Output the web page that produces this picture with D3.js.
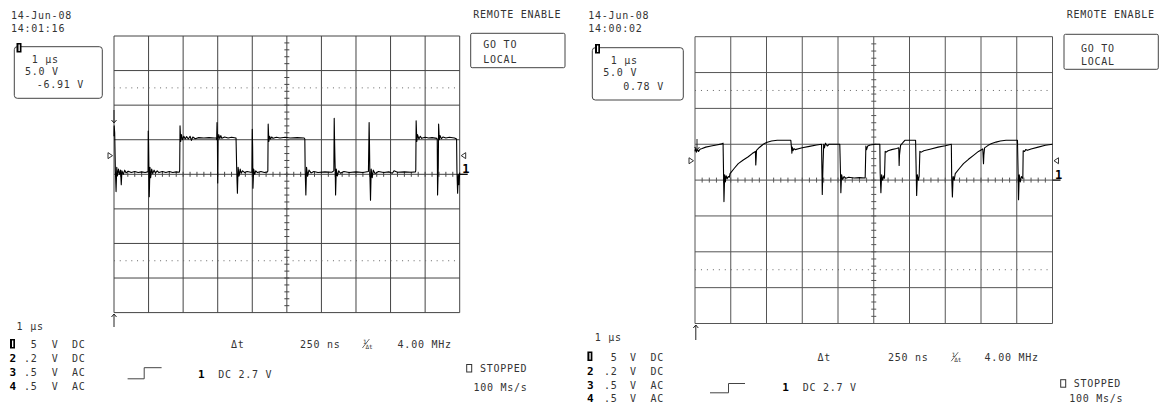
<!DOCTYPE html>
<html>
<head>
<meta charset="utf-8">
<script src="https://cdn.jsdelivr.net/npm/d3@7"></script>
<style>
body { margin: 0; background: #fff; }
text { font-family: "DejaVu Sans Mono", monospace; font-size: 10px; fill: #333; letter-spacing: 0.75px; white-space: pre; }
text.bold { font-weight: bold; fill: #000; font-size: 11px; letter-spacing: 0; }
</style>
</head>
<body>
<svg id="scope" width="1162" height="403"></svg>
<script>
var dates = ["14-Jun-08", "14-Jun-08"];
var times = ["14:01:16", "14:00:02"];
var offsets = ["-6.91 V", "0.78 V"];
var timebase = "1 μs";
var voltsText = "5.0 V";
var voltsPerDiv = 5;
var trigLevel = 2.7;
var trigText = "DC 2.7 V";
var deltaT = "250 ns";
var freq = "4.00 MHz";
var sampleRate = "100 Ms/s";
var chNames = ["1", "2", "3", "4"];
var chScale = [" 5", ".2", ".5", ".5"];
var chCoupling = ["DC", "DC", "AC", "AC"];

// trace points: [time in div, level in div above centre]
var leftTrace = [
[0.00,1.10],[0.005,1.40],[0.02,1.20],[0.04,0.10],[0.06,-0.50],[0.08,0.20],[0.10,-0.05],[0.13,0.15],[0.16,0.00],[0.19,0.12],[0.21,-0.30],[0.23,0.10],[0.27,0.00],[0.31,0.12],[0.35,0.04],[0.41,0.09],[0.5,0.05],[0.6,0.08],[0.7,0.05],[0.8,0.07],[0.9,0.05],[0.97,0.07],
[0.985,0.10],[0.99,1.25],[1.00,0.90],[1.01,0.10],[1.02,-0.65],[1.04,0.20],[1.06,-0.10],[1.09,0.15],[1.12,0.02],[1.16,0.12],[1.20,0.04],[1.25,0.10],[1.30,0.05],[1.40,0.08],[1.50,0.05],[1.60,0.08],[1.70,0.05],[1.80,0.07],[1.89,0.06],
[1.90,0.12],[1.91,1.40],[1.93,0.95],[1.95,1.15],[1.98,1.00],[2.02,1.10],[2.06,1.02],[2.10,1.09],[2.15,1.02],[2.20,1.10],[2.24,0.98],[2.28,1.08],[2.35,1.03],[2.45,1.06],[2.60,1.05],[2.75,1.06],[2.90,1.05],[2.96,1.05],
[2.97,1.00],[2.98,1.50],[2.99,1.20],[3.00,-0.25],[3.01,1.00],[3.03,1.15],[3.06,1.03],[3.09,1.12],[3.12,1.04],[3.20,1.08],[3.30,1.05],[3.40,1.07],[3.53,1.05],
[3.55,0.10],[3.57,-0.55],[3.59,0.20],[3.62,-0.05],[3.65,0.15],[3.68,0.03],[3.72,0.10],[3.78,0.05],[3.85,0.08],[3.95,0.06],
[3.99,0.06],[4.00,1.30],[4.01,0.80],[4.02,-0.40],[4.04,0.15],[4.07,0.00],[4.10,0.10],[4.15,0.05],[4.25,0.08],[4.35,0.05],[4.44,0.07],
[4.45,0.10],[4.46,1.45],[4.48,0.95],[4.50,1.10],[4.53,1.02],[4.56,1.08],[4.60,1.04],[4.70,1.07],[4.80,1.05],[4.95,1.07],[5.10,1.05],[5.30,1.06],[5.50,1.05],[5.52,1.02],
[5.53,0.10],[5.55,-0.60],[5.57,0.20],[5.60,-0.05],[5.64,0.12],[5.70,0.04],[5.78,0.08],[5.90,0.05],[6.10,0.07],[6.30,0.06],[6.36,0.10],
[6.37,1.62],[6.38,1.00],[6.39,0.50],[6.40,0.10],[6.41,-0.60],[6.43,0.15],[6.46,-0.05],[6.50,0.10],[6.55,0.03],[6.65,0.08],[6.80,0.05],[7.00,0.07],[7.20,0.05],[7.36,0.08],
[7.38,1.50],[7.39,0.90],[7.40,0.10],[7.42,-0.75],[7.44,0.15],[7.47,-0.10],[7.50,0.12],[7.55,0.02],[7.65,0.08],[7.80,0.05],[7.95,0.07],[8.05,0.03],[8.10,0.10],[8.20,0.06],[8.40,0.07],[8.60,0.06],[8.72,0.07],
[8.73,0.12],[8.74,1.55],[8.76,0.95],[8.78,1.15],[8.82,1.02],[8.86,1.10],[8.90,1.04],[9.00,1.07],[9.10,1.05],[9.20,1.06],[9.34,1.04],
[9.35,1.00],[9.36,-0.60],[9.38,0.20],[9.39,1.45],[9.41,1.00],[9.43,1.12],[9.47,1.03],[9.52,1.08],[9.60,1.05],[9.70,1.07],[9.85,1.05],[9.91,1.02],
[9.92,0.10],[9.94,-0.55],[9.96,0.00],[9.98,-0.30],[10.00,0.05]
];

var rightTrace = [
[0.00,0.80],[0.02,0.90],[0.04,0.78],[0.07,0.86],[0.10,0.80],[0.14,0.86],[0.20,0.88],[0.30,0.92],[0.45,0.95],[0.60,0.98],[0.75,1.01],[0.785,1.03],
[0.80,0.10],[0.81,-0.60],[0.83,0.15],[0.85,-0.05],[0.87,0.12],[0.90,0.04],[0.93,0.10],[0.96,0.08],
[0.98,0.18],[1.10,0.33],[1.21,0.46],[1.35,0.56],[1.49,0.65],[1.60,0.74],[1.69,0.80],[1.70,0.42],[1.71,0.60],[1.72,0.83],[1.80,0.91],[1.91,1.00],[2.00,1.05],[2.14,1.09],[2.30,1.11],[2.50,1.11],[2.68,1.11],
[2.70,0.90],[2.71,0.75],[2.72,0.92],[2.74,0.82],[2.77,0.88],[2.80,0.85],[3.00,0.90],[3.20,0.94],[3.40,0.98],[3.54,1.00],
[3.55,0.30],[3.56,-0.40],[3.58,0.40],[3.60,1.00],[3.62,0.90],[3.65,1.03],[3.70,0.95],[3.75,1.00],[3.80,1.00],[4.05,1.00],
[4.07,0.20],[4.08,-0.35],[4.10,0.15],[4.13,0.02],[4.17,0.10],[4.22,0.05],[4.30,0.08],[4.45,0.06],[4.60,0.07],[4.76,0.06],
[4.78,0.95],[4.80,0.85],[4.83,0.95],[4.90,0.98],[5.05,1.00],[5.17,1.00],
[5.18,0.20],[5.20,-0.35],[5.22,0.15],[5.25,0.00],[5.28,0.12],[5.30,0.05],
[5.32,0.80],[5.35,0.78],[5.40,0.82],[5.50,0.85],[5.64,0.88],[5.70,0.90],[5.71,0.41],[5.72,0.70],[5.75,0.97],[5.82,1.05],[5.87,1.11],[6.17,1.11],
[6.19,0.10],[6.20,-0.43],[6.22,0.15],[6.25,0.00],[6.27,0.10],
[6.29,0.80],[6.33,0.78],[6.40,0.82],[6.60,0.87],[6.80,0.92],[7.00,0.96],[7.17,1.00],
[7.18,0.10],[7.20,-0.47],[7.22,0.10],[7.25,0.00],
[7.28,0.18],[7.40,0.33],[7.51,0.46],[7.65,0.58],[7.79,0.69],[7.93,0.80],[8.05,0.87],[8.07,0.46],[8.08,0.70],[8.10,0.90],[8.20,0.97],[8.30,1.02],[8.42,1.06],[8.54,1.09],[8.70,1.11],[8.90,1.11],[9.02,1.11],
[9.04,0.10],[9.05,-0.55],[9.07,0.15],[9.10,-0.05],[9.13,0.10],[9.17,0.05],
[9.18,0.82],[9.22,0.80],[9.25,0.85],[9.30,0.83],[9.40,0.87],[9.60,0.92],[9.80,0.97],[10.00,1.00]
];

// ---- where things sit in each of the two captures ----
var layouts = [
  { gx0: 114, gx1: 459.7, gy0: 36, gy1: 312.6, grid: "#444",
    head: [11, 18.5, 32.3], box: [14.3, 46.7, 102.3, 98.3], badge: [16.5, 43],
    readout: [[31.7, 63.3], [25, 74.5], [36.7, 88.3]],
    remote: [473.3, 18.3], goBox: [470.7, 33.3, 565, 67.7], goText: [483.3, 48.3, 63.3],
    tdiv: [16.6, 329.6], rowY: [348, 362, 376, 390], colX: [10, 24, 51.8, 72],
    trig: [127.6, 144.2, 161.6, 378.8, 367.7], trigCh: [197.9, 218.2, 377.7],
    cursor: [231, 300, 362.4, 397.6, 348],
    stop: [466.7, 480, 372], rate: [473.4, 390.6],
    topArrow: [114, 110, 123], botArrow: [114, 314, 327] },
  { gx0: 695, gx1: 1052.5, gy0: 36.7, gy1: 323.5, grid: "#555",
    head: [588.3, 18.5, 32.3], box: [592.3, 47.7, 683.3, 100], badge: [595, 44],
    readout: [[610.7, 64], [603.3, 75.5], [623.3, 90]],
    remote: [1066.7, 18.3], goBox: [1064, 34.3, 1158.3, 69.3], goText: [1081, 52.3, 64.8],
    tdiv: [594.8, 340.8], rowY: [360.5, 374.5, 388.5, 401.5], colX: [587.4, 604, 630, 650.5],
    trig: [710, 728.5, 745, 392.8, 383.5], trigCh: [782.3, 802.7, 391],
    cursor: [817.6, 888, 951.2, 984.6, 361.2],
    stop: [1060.7, 1073.7, 387.2], rate: [1069.2, 401.5],
    topArrow: [697, 139, 150], botArrow: [695.8, 325, 340] }
];

var svg = d3.select("#scope");
svg.append("rect").attr("width", 1162).attr("height", 403).attr("fill", "#fff");

function txt(g, x, y, s, cls) {
  var t = g.append("text").attr("x", x).attr("y", y).text(s);
  if (cls) t.attr("class", cls);
  return t;
}

function badge(g, x, y) {
  g.append("rect").attr("x", x).attr("y", y).attr("width", 5).attr("height", 9.5).attr("fill", "#000");
  g.append("rect").attr("x", x + 2).attr("y", y + 1.5).attr("width", 1.3).attr("height", 6.5).attr("fill", "#fff");
}

function arrow(g, x, y1, y2) {
  // y1 -> y2, head at y2
  var d = y2 > y1 ? 1 : -1;
  g.append("path")
    .attr("d", "M" + x + "," + y1 + "V" + y2 + "M" + (x - 2.5) + "," + (y2 - d * 3) + "L" + x + "," + y2 + "L" + (x + 2.5) + "," + (y2 - d * 3))
    .attr("fill", "none").attr("stroke", "#222").attr("stroke-width", 1);
}

function drawPanel(L, trace, k) {
  var g = svg.append("g");
  var x = d3.scaleLinear().domain([0, 10]).range([L.gx0, L.gx1]);
  var y = d3.scaleLinear().domain([-4, 4]).range([L.gy1, L.gy0]);
  var dv = x(1) - x(0);

  // graticule
  g.selectAll("line.vg").data(d3.range(0, 11)).enter().append("line")
    .attr("x1", function(d) { return x(d); }).attr("x2", function(d) { return x(d); })
    .attr("y1", y(4)).attr("y2", y(-4))
    .attr("stroke", L.grid).attr("stroke-width", 1);
  g.selectAll("line.hg").data(d3.range(-4, 5)).enter().append("line")
    .attr("x1", x(0)).attr("x2", x(10))
    .attr("y1", function(d) { return y(d); }).attr("y2", function(d) { return y(d); })
    .attr("stroke", L.grid).attr("stroke-width", 1);
  g.selectAll("line.dot").data([2.5, -2.5]).enter().append("line")
    .attr("x1", x(0)).attr("x2", x(10))
    .attr("y1", function(d) { return y(d); }).attr("y2", function(d) { return y(d); })
    .attr("stroke", "#666").attr("stroke-width", 1)
    .attr("stroke-dasharray", "1," + (dv / 6 - 1));
  // minor ticks on centre axes
  g.selectAll("line.tx").data(d3.range(1, 50)).enter().append("line")
    .attr("x1", function(d) { return x(d / 5); }).attr("x2", function(d) { return x(d / 5); })
    .attr("y1", y(0) - 2.5).attr("y2", y(0) + 2.5)
    .attr("stroke", L.grid);
  g.selectAll("line.ty").data(d3.range(-19, 20)).enter().append("line")
    .attr("x1", x(5) - 2.5).attr("x2", x(5) + 2.5)
    .attr("y1", function(d) { return y(d / 5); }).attr("y2", function(d) { return y(d / 5); })
    .attr("stroke", L.grid);

  // trace
  var line = d3.line().x(function(d) { return x(d[0]); }).y(function(d) { return y(d[1]); });
  g.append("path").datum(trace).attr("d", line)
    .attr("fill", "none").attr("stroke", "#000").attr("stroke-width", 1.1)
    .attr("stroke-linejoin", "round");

  // trigger level markers and ground marker
  var ty = y(trigLevel / voltsPerDiv);
  g.append("path").attr("d", "M" + (x(0) - 6) + "," + (ty - 3) + "L" + (x(0) - 1.5) + "," + ty + "L" + (x(0) - 6) + "," + (ty + 3) + "Z")
    .attr("fill", "#fff").attr("stroke", "#333");
  g.append("path").attr("d", "M" + (x(10) + 6) + "," + (ty - 3) + "L" + (x(10) + 1.5) + "," + ty + "L" + (x(10) + 6) + "," + (ty + 3) + "Z")
    .attr("fill", "#fff").attr("stroke", "#333");
  g.append("line").attr("x1", x(10)).attr("x2", x(10) + 8).attr("y1", y(0)).attr("y2", y(0))
    .attr("stroke", "#000").attr("stroke-width", 1.3);
  txt(g, x(10) + 2.5, y(0) - 1.5, chNames[0], "bold").style("font-size", "12px");

  arrow(g, L.topArrow[0], L.topArrow[1], L.topArrow[2]);
  arrow(g, L.botArrow[0], L.botArrow[2], L.botArrow[1]);

  // header
  txt(g, L.head[0], L.head[1], dates[k]);
  txt(g, L.head[0], L.head[2], times[k]);
  g.append("rect").attr("x", L.box[0]).attr("y", L.box[1])
    .attr("width", L.box[2] - L.box[0]).attr("height", L.box[3] - L.box[1])
    .attr("rx", 3).attr("fill", "none").attr("stroke", "#444");
  badge(g, L.badge[0], L.badge[1]);
  txt(g, L.readout[0][0], L.readout[0][1], timebase);
  txt(g, L.readout[1][0], L.readout[1][1], voltsText);
  txt(g, L.readout[2][0], L.readout[2][1], offsets[k]);

  txt(g, L.remote[0], L.remote[1], "REMOTE ENABLE");
  g.append("rect").attr("x", L.goBox[0]).attr("y", L.goBox[1])
    .attr("width", L.goBox[2] - L.goBox[0]).attr("height", L.goBox[3] - L.goBox[1])
    .attr("rx", 1.5).attr("fill", "none").attr("stroke", "#444");
  txt(g, L.goText[0], L.goText[1], "GO TO");
  txt(g, L.goText[0], L.goText[2], "LOCAL");

  // channel table
  txt(g, L.tdiv[0], L.tdiv[1], timebase);
  chNames.forEach(function(c, i) {
    var yy = L.rowY[i];
    if (i === 0) badge(g, L.colX[0], yy - 9);
    else txt(g, L.colX[0] - 0.5, yy, c, "bold");
    txt(g, L.colX[1], yy, chScale[i]);
    txt(g, L.colX[2], yy, "V");
    txt(g, L.colX[3], yy, chCoupling[i]);
  });

  // trigger
  var T = L.trig;
  g.append("path").attr("d", "M" + T[0] + "," + T[3] + "H" + T[1] + "V" + T[4] + "H" + T[2])
    .attr("fill", "none").attr("stroke", "#444");
  txt(g, L.trigCh[0], L.trigCh[2], chNames[0], "bold");
  txt(g, L.trigCh[1], L.trigCh[2], trigText);

  // cursors
  var C = L.cursor;
  txt(g, C[0], C[4], "Δt");
  txt(g, C[1], C[4], deltaT);
  txt(g, C[2] + 0.5, C[4] - 4.5, "1").style("font-size", "6px").style("letter-spacing", "0");
  g.append("line").attr("x1", C[2]).attr("y1", C[4]).attr("x2", C[2] + 7).attr("y2", C[4] - 9)
    .attr("stroke", "#444").attr("stroke-width", 0.8);
  txt(g, C[2] + 3, C[4] + 1, "Δt").style("font-size", "6px").style("letter-spacing", "0");
  txt(g, C[3], C[4], freq);

  g.append("rect").attr("x", L.stop[0]).attr("y", L.stop[2] - 7.5).attr("width", 5).attr("height", 7.5)
    .attr("fill", "none").attr("stroke", "#333");
  txt(g, L.stop[1], L.stop[2], "STOPPED");
  txt(g, L.rate[0], L.rate[1], sampleRate);
}

drawPanel(layouts[0], leftTrace, 0);
drawPanel(layouts[1], rightTrace, 1);
</script>
</body>
</html>
